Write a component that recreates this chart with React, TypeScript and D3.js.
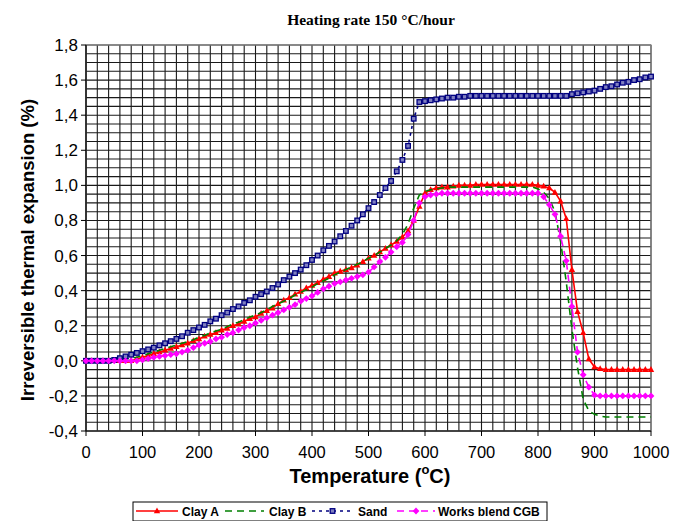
import React from 'react';
import * as d3 from 'd3';

// temperatures, every 10 °C from 0 to 1000
const temps: number[] = d3.range(0, 1001, 10);

const clayA: number[] = [
  0, 0, 0, 0, 0, 0, 0, 0, 0, 0.01,
  0.02, 0.03, 0.04, 0.05, 0.06, 0.07, 0.08, 0.09, 0.1, 0.115,
  0.125, 0.14, 0.15, 0.16, 0.175, 0.185, 0.2, 0.21, 0.225, 0.24,
  0.25, 0.27, 0.285, 0.3, 0.325, 0.345, 0.36, 0.38, 0.395, 0.415,
  0.43, 0.445, 0.465, 0.48, 0.5, 0.51, 0.52, 0.53, 0.545, 0.565,
  0.585, 0.6, 0.62, 0.64, 0.66, 0.68, 0.705, 0.74, 0.8, 0.88,
  0.955, 0.975, 0.985, 0.99, 0.99, 0.995, 1.0, 1.0, 1.0, 1.005,
  1.005, 1.005, 1.005, 1.005, 1.005, 1.005, 1.005, 1.005, 1.005, 1.005,
  1.0, 0.995, 0.985, 0.96, 0.91, 0.81, 0.52, 0.28, 0.16, 0.01,
  -0.035, -0.045, -0.05, -0.05, -0.05, -0.05, -0.05, -0.05, -0.05, -0.05,
  -0.05,
];

const clayB: number[] = [
  0, 0, 0, 0, 0, 0, 0.005, 0.01, 0.015, 0.02,
  0.03, 0.04, 0.05, 0.06, 0.07, 0.08, 0.09, 0.1, 0.11, 0.12,
  0.135, 0.145, 0.16, 0.17, 0.18, 0.195, 0.21, 0.22, 0.235, 0.25,
  0.26, 0.275, 0.29, 0.31, 0.325, 0.34, 0.355, 0.375, 0.39, 0.405,
  0.42, 0.44, 0.455, 0.47, 0.49, 0.505, 0.52, 0.535, 0.55, 0.565,
  0.585, 0.6, 0.62, 0.64, 0.66, 0.685, 0.72, 0.78, 0.87, 0.945,
  0.965, 0.975, 0.98, 0.985, 0.99, 0.99, 0.99, 0.99, 0.99, 0.99,
  0.99, 0.99, 0.99, 0.99, 0.99, 0.99, 0.99, 0.99, 0.99, 0.99,
  0.98, 0.96, 0.925, 0.85, 0.68, 0.45, 0.18, -0.04, -0.22, -0.285,
  -0.305, -0.315, -0.32, -0.32, -0.32, -0.32, -0.32, -0.32, -0.32, -0.32,
  -0.32,
];

const sand: number[] = [
  0, 0, 0, 0, 0, 0.005, 0.015, 0.025, 0.035, 0.045,
  0.055, 0.065, 0.075, 0.088, 0.1, 0.112, 0.125, 0.14, 0.16, 0.175,
  0.19, 0.205, 0.225, 0.24, 0.26, 0.275, 0.295, 0.31, 0.33, 0.345,
  0.365, 0.38, 0.395, 0.415, 0.435, 0.46, 0.48, 0.5, 0.52, 0.545,
  0.575, 0.6, 0.63, 0.655, 0.68, 0.71, 0.74, 0.77, 0.8, 0.835,
  0.87, 0.905, 0.945, 0.985, 1.025, 1.08, 1.145, 1.225, 1.38, 1.475,
  1.48, 1.485, 1.49, 1.495, 1.5, 1.5, 1.505, 1.505, 1.51, 1.51,
  1.51, 1.51, 1.51, 1.51, 1.51, 1.51, 1.51, 1.51, 1.51, 1.51,
  1.51, 1.51, 1.51, 1.51, 1.51, 1.51, 1.52, 1.525, 1.53, 1.535,
  1.54, 1.55, 1.56, 1.565, 1.575, 1.585, 1.59, 1.6, 1.605, 1.615,
  1.62,
];

const worksBlend: number[] = [
  0, 0, 0, 0, 0, 0, 0, 0, 0, 0,
  0.005, 0.012, 0.02, 0.025, 0.03, 0.035, 0.04, 0.05, 0.06, 0.075,
  0.09, 0.1, 0.11, 0.125, 0.135, 0.15, 0.16, 0.175, 0.19, 0.2,
  0.215, 0.23, 0.245, 0.26, 0.275, 0.29, 0.305, 0.32, 0.34, 0.355,
  0.37, 0.39, 0.41, 0.425, 0.44, 0.45, 0.46, 0.47, 0.48, 0.49,
  0.505, 0.535, 0.565, 0.59, 0.62, 0.65, 0.675, 0.72, 0.8, 0.9,
  0.935, 0.945, 0.95, 0.955, 0.955, 0.955, 0.955, 0.955, 0.955, 0.955,
  0.955, 0.955, 0.955, 0.955, 0.955, 0.955, 0.955, 0.955, 0.955, 0.955,
  0.955, 0.935, 0.89, 0.835, 0.71, 0.57, 0.31, 0.05, -0.08, -0.15,
  -0.195, -0.2, -0.2, -0.2, -0.2, -0.2, -0.2, -0.2, -0.2, -0.2,
  -0.2,
];

const xTicks: number[] = [0, 100, 200, 300, 400, 500, 600, 700, 800, 900, 1000];
const yTicks: number[] = [-0.4, -0.2, 0, 0.2, 0.4, 0.6, 0.8, 1.0, 1.2, 1.4, 1.6, 1.8];
const legendNames: string[] = ['Clay A', 'Clay B', 'Sand', 'Works blend CGB'];

const W = 687;
const H = 521;
const left = 86;
const right = 651;
const top = 45;
const bottom = 431;

const fmt = (v: number) => (Math.abs(v) < 1e-9 ? '0,0' : v.toFixed(1).replace('.', ','));

type Marker = 'triangle' | 'none' | 'square' | 'diamond';

const seriesDefs = [
  { name: legendNames[0], values: clayA, color: '#ff0000', dash: '', marker: 'triangle' as Marker },
  { name: legendNames[1], values: clayB, color: '#008000', dash: '7,5', marker: 'none' as Marker },
  { name: legendNames[2], values: sand, color: '#000080', dash: '3,4', marker: 'square' as Marker },
  { name: legendNames[3], values: worksBlend, color: '#ff00ff', dash: '7,5', marker: 'diamond' as Marker },
];

function drawMarker(m: Marker, cx: number, cy: number, color: string, key: string) {
  if (m === 'triangle') {
    return (
      <path key={key} d={`M${cx},${cy - 3.5}L${cx + 3.2},${cy + 2.3}L${cx - 3.2},${cy + 2.3}Z`} fill={color} />
    );
  }
  if (m === 'square') {
    return (
      <rect key={key} x={cx - 2.3} y={cy - 2.3} width={4.6} height={4.6} fill="#8080c0" stroke={color} strokeWidth={1.3} />
    );
  }
  if (m === 'diamond') {
    return (
      <path key={key} d={`M${cx},${cy - 3.4}L${cx + 3.4},${cy}L${cx},${cy + 3.4}L${cx - 3.4},${cy}Z`} fill={color} />
    );
  }
  return null;
}

export default function App() {
  const x = d3.scaleLinear().domain([0, 1000]).range([left, right]);
  const y = d3.scaleLinear().domain([-0.4, 1.8]).range([bottom, top]);

  const vGrid = d3.range(0, 1001, 20);
  const hGrid = d3.range(0, 45).map((i) => -0.4 + i * 0.05);

  const line = d3
    .line<number>()
    .x((_, i) => x(temps[i]))
    .y((d) => y(d));

  const legendItems = [
    { lx0: 136, lx1: 178, tx: 182 },
    { lx0: 225, lx1: 264, tx: 269 },
    { lx0: 312, lx1: 353, tx: 358 },
    { lx0: 397, lx1: 435, tx: 438 },
  ];
  const ly = 511;

  return (
    <svg
      width={W}
      height={H}
      style={{ position: 'absolute', left: 0, top: 0, background: '#fff' }}
      fontFamily="Arial, 'Liberation Sans', sans-serif"
    >
      <rect x={0} y={0} width={W} height={H} fill="#fff" />
      <text x={371} y={25} textAnchor="middle" fontFamily="'Liberation Serif', 'Times New Roman', serif" fontWeight="bold" fontSize={15.5}>
        Heating rate 150 °C/hour
      </text>

      {/* grid */}
      <g stroke="#1a1a1a" strokeWidth={1.1}>
        {vGrid.map((t) => (
          <line key={'v' + t} x1={x(t)} x2={x(t)} y1={top} y2={bottom} />
        ))}
        {hGrid.map((v, i) => (
          <line key={'h' + i} x1={left} x2={right} y1={y(v)} y2={y(v)} />
        ))}
      </g>
      <rect x={left} y={top} width={right - left} height={bottom - top} fill="none" stroke="#888" strokeWidth={1.2} />
      <line x1={left} x2={left} y1={top} y2={bottom} stroke="#000" strokeWidth={1.2} />
      <line x1={left} x2={right} y1={bottom} y2={bottom} stroke="#000" strokeWidth={1.2} />

      {/* ticks */}
      {yTicks.map((v) => (
        <g key={'yt' + v}>
          <line x1={left - 5} x2={left} y1={y(v)} y2={y(v)} stroke="#000" />
          <text x={left - 8} y={y(v) + 6} textAnchor="end" fontSize={17}>
            {fmt(v)}
          </text>
        </g>
      ))}
      {xTicks.map((t) => (
        <g key={'xt' + t}>
          <line x1={x(t)} x2={x(t)} y1={bottom} y2={bottom + 5} stroke="#000" />
          <text x={x(t)} y={bottom + 27} textAnchor="middle" fontSize={16.5}>
            {t}
          </text>
        </g>
      ))}

      <text
        transform={`translate(34,${(top + bottom) / 2 + 12}) rotate(-90)`}
        textAnchor="middle"
        fontWeight="bold"
        fontSize={18.5}
      >
        Irreversible thermal expansion (%)
      </text>
      <text x={370} y={483} textAnchor="middle" fontWeight="bold" fontSize={20}>
        Temperature (<tspan fontSize={13} dy={-9}>o</tspan>
        <tspan dy={9}>C)</tspan>
      </text>

      {/* series */}
      {seriesDefs.map((s) => (
        <g key={s.name}>
          <path d={line(s.values) || ''} fill="none" stroke={s.color} strokeWidth={1.6} strokeDasharray={s.dash} />
          {s.values.map((v, i) => drawMarker(s.marker, x(temps[i]), y(v), s.color, s.name + i))}
        </g>
      ))}

      {/* legend */}
      <rect x={133} y={502} width={414} height={19} fill="#fff" stroke="#000" strokeWidth={1} />
      {seriesDefs.map((s, i) => {
        const it = legendItems[i];
        return (
          <g key={'lg' + s.name}>
            <line x1={it.lx0} x2={it.lx1} y1={ly} y2={ly} stroke={s.color} strokeWidth={1.6} strokeDasharray={s.dash} />
            {drawMarker(s.marker, (it.lx0 + it.lx1) / 2, ly, s.color, 'lm' + i)}
            <text x={it.tx} y={ly + 4.5} fontSize={12} fontWeight="bold">
              {s.name}
            </text>
          </g>
        );
      })}
    </svg>
  );
}
